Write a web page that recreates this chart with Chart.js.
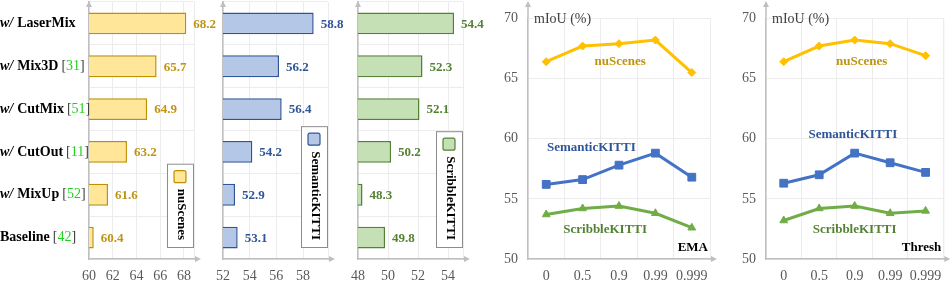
<!DOCTYPE html>
<html>
<head>
<meta charset="utf-8">
<script src="https://cdn.jsdelivr.net/npm/chart.js@4"></script>
<style>
  html, body { margin: 0; padding: 0; background: #fff; }
  #wrap { position: relative; width: 951px; height: 281px; overflow: hidden; }
  #wrap canvas { position: absolute; left: 0; top: 0; }
</style>
</head>
<body>
<div id="wrap">
  <canvas id="barNus" width="951" height="281"></canvas>
  <canvas id="barSem" width="951" height="281"></canvas>
  <canvas id="barScr" width="951" height="281"></canvas>
  <canvas id="lineEma" width="951" height="281"></canvas>
  <canvas id="lineThr" width="951" height="281"></canvas>
</div>
<script>
// ---- data ----
const methods = ['w/ LaserMix', 'w/ Mix3D [31]', 'w/ CutMix [51]', 'w/ CutOut [11]', 'w/ MixUp [52]', 'Baseline [42]'];
const nuscBars = [68.2, 65.7, 64.9, 63.2, 61.6, 60.4];
const semBars = [58.8, 56.2, 56.4, 54.2, 52.9, 53.1];
const scrBars = [54.4, 52.3, 52.1, 50.2, 48.3, 49.8];

const emaLabels = ['0', '0.5', '0.9', '0.99', '0.999'];
const emaNusc = [66.4, 67.7, 67.9, 68.2, 65.5];
const emaSem = [56.2, 56.6, 57.8, 58.8, 56.8];
const emaScr = [53.7, 54.2, 54.4, 53.8, 52.6];

const thrLabels = ['0', '0.5', '0.9', '0.99', '0.999'];
const thrNusc = [66.4, 67.7, 68.2, 67.9, 66.9];
const thrSem = [56.3, 57.0, 58.8, 58.0, 57.2];
const thrScr = [53.2, 54.2, 54.4, 53.8, 54.0];

const SERIF = '"Liberation Serif", "DejaVu Serif", serif';
const AXIS = '#bfbfbf';
const GRID = '#ececec';
const TICK = '#595959';

const gold = { fill: '#FFE699', edge: '#BF9000', text: '#C09310', line: '#FFC000' };
const blue = { fill: '#B4C7E7', edge: '#2F5597', text: '#2F5597', line: '#4472C4' };
const green = { fill: '#C5E0B4', edge: '#548235', text: '#548235', line: '#70AD47' };

// arrows on the axes + right edge grid line
const axisArrows = {
  id: 'axisArrows',
  beforeDatasetsDraw(chart) {
    const { ctx, chartArea: a } = chart;
    ctx.save();
    ctx.strokeStyle = GRID;
    ctx.lineWidth = 1;
    ctx.beginPath();
    ctx.moveTo(a.right + 0.5, a.top);
    ctx.lineTo(a.right + 0.5, a.bottom);
    ctx.stroke();
    ctx.restore();
  },
  afterDraw(chart) {
    const { ctx, chartArea: a } = chart;
    ctx.save();
    ctx.fillStyle = AXIS;
    ctx.strokeStyle = AXIS;
    ctx.lineWidth = 1.5;
    // x arrow
    ctx.beginPath();
    ctx.moveTo(a.right, a.bottom);
    ctx.lineTo(a.right + 3, a.bottom);
    ctx.stroke();
    ctx.beginPath();
    ctx.moveTo(a.right + 7, a.bottom);
    ctx.lineTo(a.right + 1, a.bottom - 3);
    ctx.lineTo(a.right + 1, a.bottom + 3);
    ctx.closePath();
    ctx.fill();
    // y arrow
    const top = chart.options.plugins.axisArrows.top;
    ctx.beginPath();
    ctx.moveTo(a.left, a.top);
    ctx.lineTo(a.left, top + 4);
    ctx.stroke();
    ctx.beginPath();
    ctx.moveTo(a.left, top);
    ctx.lineTo(a.left - 3, top + 6);
    ctx.lineTo(a.left + 3, top + 6);
    ctx.closePath();
    ctx.fill();
    ctx.restore();
  }
};

// value labels at bar ends + vertical legend box
const barExtras = {
  id: 'barExtras',
  afterDatasetsDraw(chart) {
    const { ctx, chartArea: a } = chart;
    const o = chart.options.plugins.barExtras;
    const meta = chart.getDatasetMeta(0);
    ctx.save();
    ctx.font = 'bold 13px ' + SERIF;
    ctx.fillStyle = o.color.text;
    ctx.textBaseline = 'middle';
    meta.data.forEach((bar, i) => {
      const v = chart.data.datasets[0].data[i];
      ctx.fillText(v.toFixed(1), bar.x + 7, bar.y + 1);
    });
    // legend box
    ctx.font = 'bold 13px ' + SERIF;
    const tw = ctx.measureText(o.name).width;
    const w = 26, h = 7 + 12 + 6 + tw + 7;
    const right = a.right - 1, bottom = a.bottom - 12;
    const left = right - w, top = bottom - h;
    ctx.fillStyle = '#fff';
    ctx.fillRect(left, top, w, h);
    ctx.strokeStyle = '#8c8c8c';
    ctx.lineWidth = 1;
    ctx.strokeRect(left + 0.5, top + 0.5, w, h);
    ctx.fillStyle = o.color.fill;
    ctx.strokeStyle = o.color.edge;
    ctx.lineWidth = 1.2;
    ctx.beginPath();
    ctx.roundRect(left + 7, top + 7, 12, 12, 2);
    ctx.fill();
    ctx.stroke();
    ctx.translate(left + w / 2 + 1, top + 7 + 12 + 6);
    ctx.rotate(Math.PI / 2);
    ctx.fillStyle = '#000';
    ctx.textAlign = 'left';
    ctx.textBaseline = 'middle';
    ctx.fillText(o.name, 0, 0);
    ctx.restore();
  }
};

// method names on the left of the first bar chart
const methodLabels = {
  id: 'methodLabels',
  afterDraw(chart) {
    if (!chart.options.plugins.methodLabels.show) return;
    const ctx = chart.ctx, ys = chart.scales.y;
    ctx.save();
    ctx.textBaseline = 'middle';
    methods.forEach((lab, i) => {
      const y = ys.getPixelForValue(i);
      let x = 0;
      let rest = lab;
      ctx.fillStyle = '#000';
      if (rest.startsWith('w/ ')) {
        ctx.font = 'italic bold 14px ' + SERIF;
        ctx.fillText('w/', x, y);
        x += ctx.measureText('w/').width + 4;
        rest = rest.slice(3);
      }
      const m = rest.match(/^(.*?)(\s\[(\d+)\])?$/);
      ctx.font = 'bold 14px ' + SERIF;
      ctx.fillText(m[1], x, y);
      x += ctx.measureText(m[1]).width + 3;
      if (m[3]) {
        ctx.font = '14px ' + SERIF;
        ctx.fillStyle = '#404040';
        ctx.fillText('[', x, y);
        x += ctx.measureText('[').width;
        ctx.fillStyle = '#1fd11f';
        ctx.fillText(m[3], x, y);
        x += ctx.measureText(m[3]).width;
        ctx.fillStyle = '#404040';
        ctx.fillText(']', x, y);
      }
    });
    ctx.restore();
  }
};

// text notes inside the line charts
const lineNotes = {
  id: 'lineNotes',
  afterDraw(chart) {
    const { ctx, chartArea: a } = chart;
    const o = chart.options.plugins.lineNotes;
    const xs = chart.scales.x, ys = chart.scales.y;
    ctx.save();
    ctx.textBaseline = 'middle';
    o.notes.forEach(n => {
      ctx.font = 'bold 13px ' + SERIF;
      ctx.fillStyle = n.color;
      ctx.textAlign = 'center';
      ctx.fillText(n.text, xs.getPixelForValue(n.at) , ys.getPixelForValue(n.val));
    });
    ctx.font = '14px ' + SERIF;
    ctx.fillStyle = '#404040';
    ctx.textAlign = 'left';
    ctx.fillText('mIoU (%)', a.left + 6, a.top + 1);
    ctx.font = 'bold 13px ' + SERIF;
    ctx.fillStyle = '#000';
    ctx.textAlign = 'right';
    ctx.fillText(o.axisName, a.right - 2, a.bottom - 11);
    ctx.restore();
  }
};

function barChart(id, values, min, max, color, name, padLeft, showLabels) {
  return new Chart(document.getElementById(id), {
    type: 'bar',
    data: {
      labels: methods,
      datasets: [{
        data: values,
        backgroundColor: color.fill,
        borderColor: color.edge,
        borderWidth: 1.5,
        borderSkipped: false,
        categoryPercentage: 1,
        barPercentage: 0.51
      }]
    },
    options: {
      indexAxis: 'y',
      responsive: false,
      animation: false,
      devicePixelRatio: 1,
      layout: { padding: { left: padLeft, right: 951 - padLeft - 105 - (showLabels ? 89 : 0), top: 2, bottom: 0 } },
      plugins: {
        legend: { display: false },
        tooltip: { enabled: false },
        axisArrows: { top: 1 },
        barExtras: { color: color, name: name },
        methodLabels: { show: showLabels }
      },
      scales: {
        x: {
          type: 'linear', min: min, max: max,
          grid: { color: GRID, drawTicks: false },
          border: { color: AXIS, width: 1.5 },
          ticks: { stepSize: 2, includeBounds: false, color: TICK, padding: 9, font: { family: SERIF, size: 14 } },
          afterFit(s) { s.height = 22; }
        },
        y: {
          grid: { color: GRID, drawTicks: false, offset: true },
          border: { color: AXIS, width: 1.5 },
          ticks: { display: false },
          afterFit(s) { s.width = showLabels ? 89 : 0; }
        }
      }
    },
    plugins: [barExtras, methodLabels, axisArrows]
  });
}

function lineChart(id, labels, nus, sem, scr, padLeft, axisName, notes) {
  const ds = (label, data, c, style, r) => ({
    label, data,
    borderColor: c.line, backgroundColor: c.line,
    borderWidth: 3, pointStyle: style, pointRadius: r, pointBorderWidth: 1,
    tension: 0
  });
  return new Chart(document.getElementById(id), {
    type: 'line',
    data: {
      labels: labels,
      datasets: [
        ds('nuScenes', nus, gold, 'rectRot', 4),
        ds('SemanticKITTI', sem, blue, 'rect', 5.5),
        ds('ScribbleKITTI', scr, green, 'triangle', 4.5)
      ]
    },
    options: {
      responsive: false,
      animation: false,
      devicePixelRatio: 1,
      layout: { padding: { left: padLeft - 40, right: 951 - padLeft - 182, top: 6, bottom: 0 } },
      plugins: {
        legend: { display: false },
        tooltip: { enabled: false },
        axisArrows: { top: 1 },
        lineNotes: { axisName: axisName, notes: notes }
      },
      scales: {
        x: {
          type: 'category', offset: true,
          grid: { color: GRID, drawTicks: false, offset: true },
          border: { color: AXIS, width: 1.5 },
          ticks: { color: TICK, padding: 9, maxRotation: 0, font: { family: SERIF, size: 14 } },
          afterFit(s) { s.height = 22; }
        },
        y: {
          min: 50, max: 70,
          grid: { color: GRID, drawTicks: false },
          border: { color: AXIS, width: 1.5 },
          ticks: { stepSize: 5, color: TICK, padding: 10, font: { family: SERIF, size: 14 } },
          afterFit(s) { s.width = 40; }
        }
      }
    },
    plugins: [lineNotes, axisArrows]
  });
}

barChart('barNus', nuscBars, 60, 68.85, gold, 'nuScenes', 0, true);
barChart('barSem', semBars, 52, 59.875, blue, 'SemanticKITTI', 223, false);
barChart('barScr', scrBars, 48, 55, green, 'ScribbleKITTI', 358, false);

lineChart('lineEma', emaLabels, emaNusc, emaSem, emaScr, 528, 'EMA', [
  { text: 'nuScenes', color: gold.text, at: 2.03, val: 66.4 },
  { text: 'SemanticKITTI', color: blue.text, at: 1.24, val: 59.25 },
  { text: 'ScribbleKITTI', color: green.text, at: 1.62, val: 52.45 }
]);
lineChart('lineThr', thrLabels, thrNusc, thrSem, thrScr, 766, 'Thresh', [
  { text: 'nuScenes', color: gold.text, at: 2.2, val: 66.4 },
  { text: 'SemanticKITTI', color: blue.text, at: 1.95, val: 60.35 },
  { text: 'ScribbleKITTI', color: green.text, at: 2.0, val: 52.45 }
]);
</script>
</body>
</html>
